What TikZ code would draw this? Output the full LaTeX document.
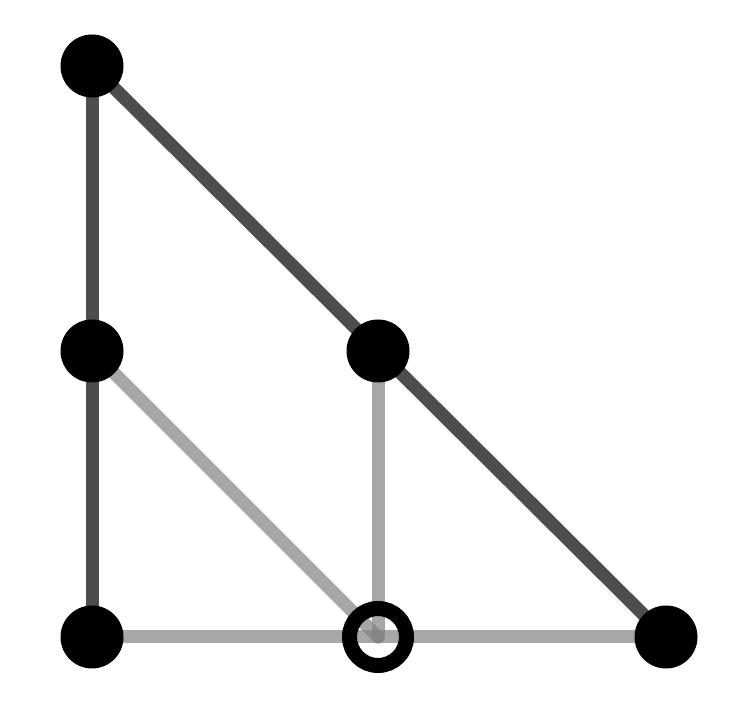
\documentclass[tikz,border=0pt]{standalone}
\usepackage{xcolor}
\usepackage{tikz}
\definecolor{dark}{HTML}{4D4D4D}
\definecolor{light}{HTML}{828282}
\tikzset{
  seg/.style={draw=dark, line width=0.13cm, line cap=round},
  lseg/.style={draw=light, draw opacity=0.7, line width=0.13cm, line cap=round},
  pt/.style={circle, fill=black, inner sep=0pt, minimum size=0.63cm},
  hollowPt/.style={circle, draw=black, line width=0.15cm, inner sep=0pt, minimum size=0.57cm}
}
\begin{document}
\begin{tikzpicture}
  \useasboundingbox (0,0) rectangle (7.48,7.22);

  \coordinate (A) at (0.92,6.56);
  \coordinate (B) at (0.92,3.71);
  \coordinate (C) at (0.92,0.85);
  \coordinate (D) at (3.78,3.71);
  \coordinate (E) at (3.78,0.85);
  \coordinate (F) at (6.66,0.85);

  \draw[seg] (A)--(C);
  \draw[seg] (A)--(F);
  \draw[lseg] (C)--(F);
  \draw[lseg] (B)--(E);
  \draw[lseg] (D)--(E);

  \node[pt] (a) at (A) {};
  \node[pt] (b) at (B) {};
  \node[pt] (c) at (C) {};
  \node[pt] (d) at (D) {};
  \node[pt] (f) at (F) {};
  \node[hollowPt] (e) at (E) {};
\end{tikzpicture}
\end{document}
